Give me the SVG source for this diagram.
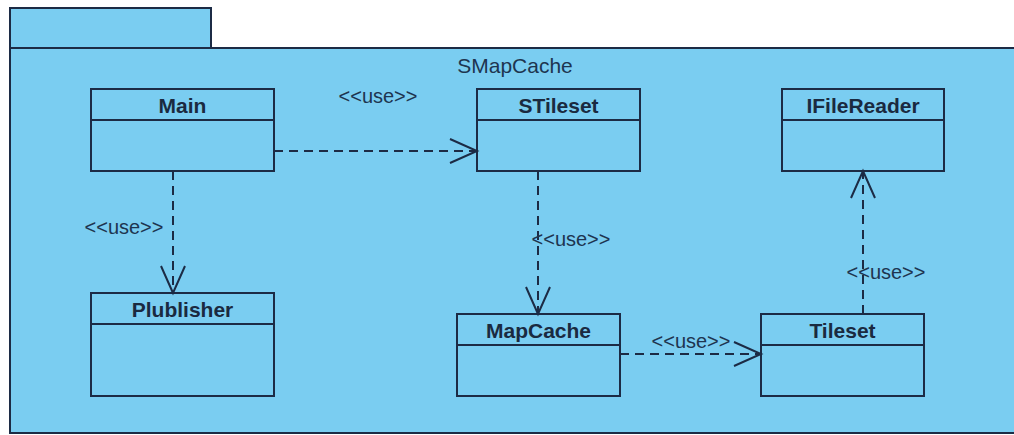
<svg xmlns="http://www.w3.org/2000/svg" width="1014" height="435" viewBox="0 0 1014 435">
  <style>
    .pkg { fill: #7acdf1; stroke: #1c2b45; stroke-width: 2; }
    .cls { fill: #7acdf1; stroke: #1c2b45; stroke-width: 2; }
    .div { stroke: #1c2b45; stroke-width: 2; }
    .name { font-family: "Liberation Sans", Arial, sans-serif; font-size: 21px; font-weight: bold; fill: #1a2a40; text-anchor: middle; }
    .pkgname { font-family: "Liberation Sans", Arial, sans-serif; font-size: 21px; fill: #1e3550; text-anchor: middle; }
    .lbl { font-family: "Liberation Sans", Arial, sans-serif; font-size: 20px; fill: #1e3550; text-anchor: middle; }
    .dep { fill: none; stroke: #1c2b45; stroke-width: 2; stroke-dasharray: 9 6; marker-end: url(#open); }
  </style>
  <defs>
    <marker id="open" markerUnits="userSpaceOnUse" markerWidth="32" markerHeight="30" refX="29" refY="14" orient="auto">
      <path d="M2,2 L29,14 L2,26" fill="none" stroke="#1c2b45" stroke-width="2" stroke-dasharray="none"/>
    </marker>
  </defs>

  <rect width="1014" height="435" fill="#ffffff"/>

  <!-- package frame -->
  <g id="package-SMapCache">
    <rect class="pkg" x="10" y="8" width="201" height="40"/>
    <rect class="pkg" x="10" y="48" width="1010" height="385"/>
    <text class="pkgname" x="515" y="73">SMapCache</text>
  </g>

  <!-- classes -->
  <g id="Main">
    <rect class="cls" x="91" y="89" width="183" height="82"/>
    <line class="div" x1="91" y1="120" x2="274" y2="120"/>
    <text class="name" x="182.5" y="113">Main</text>
  </g>
  <g id="STileset">
    <rect class="cls" x="477" y="89" width="163" height="82"/>
    <line class="div" x1="477" y1="120" x2="640" y2="120"/>
    <text class="name" x="558.5" y="113">STileset</text>
  </g>
  <g id="IFileReader">
    <rect class="cls" x="782" y="89" width="162" height="82"/>
    <line class="div" x1="782" y1="120" x2="944" y2="120"/>
    <text class="name" x="863" y="113">IFileReader</text>
  </g>
  <g id="Plublisher">
    <rect class="cls" x="91" y="293" width="183" height="103"/>
    <line class="div" x1="91" y1="324" x2="274" y2="324"/>
    <text class="name" x="182.5" y="317">Plublisher</text>
  </g>
  <g id="MapCache">
    <rect class="cls" x="457" y="314" width="163" height="82"/>
    <line class="div" x1="457" y1="345" x2="620" y2="345"/>
    <text class="name" x="538.5" y="338">MapCache</text>
  </g>
  <g id="Tileset">
    <rect class="cls" x="761" y="314" width="163" height="82"/>
    <line class="div" x1="761" y1="345" x2="924" y2="345"/>
    <text class="name" x="842.5" y="338">Tileset</text>
  </g>

  <!-- dependencies -->
  <g id="connectors">
    <line class="dep" x1="274" y1="151" x2="477" y2="151"/>
    <text class="lbl" x="378" y="103">&lt;&lt;use&gt;&gt;</text>

    <line class="dep" x1="173" y1="171" x2="173" y2="293"/>
    <text class="lbl" x="124" y="234">&lt;&lt;use&gt;&gt;</text>

    <line class="dep" x1="538" y1="171" x2="538" y2="314"/>
    <text class="lbl" x="571" y="246">&lt;&lt;use&gt;&gt;</text>

    <line class="dep" x1="620" y1="354" x2="761" y2="354"/>
    <text class="lbl" x="691" y="348">&lt;&lt;use&gt;&gt;</text>

    <line class="dep" x1="863" y1="314" x2="863" y2="171"/>
    <text class="lbl" x="886" y="279">&lt;&lt;use&gt;&gt;</text>
  </g>
</svg>
